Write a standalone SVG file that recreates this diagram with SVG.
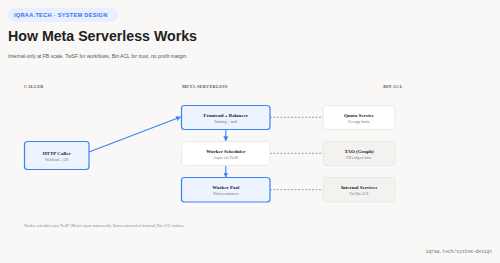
<svg xmlns="http://www.w3.org/2000/svg" width="500" height="263" viewBox="0 0 500 263">
<defs>
<style>
.sans{font-family:"Liberation Sans",Arial,sans-serif}
.serif{font-family:"Liberation Serif","DejaVu Serif",serif}
.mono{font-family:"Liberation Mono","DejaVu Sans Mono",monospace}
.col{font-size:4.3px;font-weight:bold;fill:#555;letter-spacing:0.3px}
.nt{font-size:5px;font-weight:bold;fill:#222;text-anchor:middle}
.ns{font-size:3.8px;fill:#777;text-anchor:middle}
.blue{fill:#eef4ff;stroke:#3b82f6;stroke-width:1.2}
.white{fill:#ffffff;stroke:#e6e4e0;stroke-width:0.8}
.grey{fill:#f3f2f0;stroke:#e6e4e0;stroke-width:0.8}
.dash{stroke:#888;stroke-width:0.8;stroke-dasharray:2 1.5;fill:none}
.arr{stroke:#3b82f6;stroke-width:1.1;fill:none;marker-end:url(#ah)}
</style>
<marker id="ah" viewBox="0 0 10 10" refX="9" refY="5" markerWidth="5" markerHeight="5" orient="auto" markerUnits="userSpaceOnUse">
<path d="M0,0 L10,5 L0,10 z" fill="#3b82f6"/>
</marker>
</defs>
<rect width="500" height="263" fill="#f9f8f6"/>
<g id="header">
<rect x="8" y="8" width="110" height="14" rx="7" fill="#e8efff"/>
<text x="14" y="17" class="sans" font-size="5.6" font-weight="bold" fill="#3b6ef5" letter-spacing="0.3">IQRAA.TECH · SYSTEM DESIGN</text>
<text x="8" y="41" class="sans" font-size="14.2" font-weight="bold" fill="#1f1f1f">How Meta Serverless Works</text>
<text x="8" y="58" class="sans" font-size="5.05" fill="#555">Internal-only at FB scale. TwSF for workflows, Bin ACL for trust, no profit margin.</text>
</g>
<g id="columns">
<text x="24" y="88" class="serif col">CALLER</text>
<text x="182" y="88" class="serif col">META SERVERLESS</text>
<text x="393" y="88" class="serif col" text-anchor="middle">BIN ACL</text>
</g>
<g id="connectors">
<line x1="89" y1="152" x2="180.5" y2="117" class="arr"/>
<line x1="225.8" y1="129.5" x2="225.8" y2="140.8" class="arr"/>
<line x1="225.8" y1="165.5" x2="225.8" y2="177" class="arr"/>
<line x1="270" y1="117.3" x2="323" y2="117.3" class="dash"/>
<line x1="270" y1="153.3" x2="323" y2="153.3" class="dash"/>
<line x1="270" y1="189.7" x2="323" y2="189.7" class="dash"/>
</g>
<g id="http-caller">
<rect x="24.5" y="141.5" width="64.5" height="28" rx="3" class="blue"/>
<text x="56.7" y="154.5" class="serif nt">HTTP Caller</text>
<text x="56.7" y="160.5" class="serif ns">Webhook / API</text>
</g>
<g id="frontend">
<rect x="181.5" y="105.5" width="88.5" height="24" rx="3" class="blue"/>
<text x="225.8" y="116.5" class="serif nt">Frontend + Balancer</text>
<text x="225.8" y="123" class="serif ns">Routing + auth</text>
</g>
<g id="scheduler">
<rect x="181.5" y="141.5" width="88.5" height="24" rx="3" class="white"/>
<text x="225.8" y="152.5" class="serif nt">Worker Scheduler</text>
<text x="225.8" y="159" class="serif ns">Async via TwSF</text>
</g>
<g id="worker-pool">
<rect x="181.5" y="177.5" width="88.5" height="24.5" rx="3" class="blue"/>
<text x="225.8" y="188.5" class="serif nt">Worker Pool</text>
<text x="225.8" y="195" class="serif ns">Warm containers</text>
</g>
<g id="quota">
<rect x="323" y="105.5" width="72" height="24" rx="3" class="white"/>
<text x="359" y="116.5" class="serif nt">Quota Service</text>
<text x="359" y="123" class="serif ns">Per-app limits</text>
</g>
<g id="tao">
<rect x="323" y="141.5" width="72" height="24" rx="3" class="grey"/>
<text x="359" y="152.5" class="serif nt">TAO (Graph)</text>
<text x="359" y="159" class="serif ns">FB's object store</text>
</g>
<g id="internal">
<rect x="323" y="177.5" width="72" height="24.5" rx="3" class="grey"/>
<text x="359" y="188.5" class="serif nt">Internal Services</text>
<text x="359" y="195" class="serif ns">Via Bin ACL</text>
</g>
<g id="footer">
<text x="24" y="226.5" class="serif" font-size="3.9" fill="#888">Worker scheduler uses TwSF (Meta's async framework). Quota enforced at frontend, Bin ACL isolates.</text>
<text x="492" y="253" class="mono" font-size="4.6" fill="#777" text-anchor="end">iqraa.tech/system-design</text>
</g>
</svg>
